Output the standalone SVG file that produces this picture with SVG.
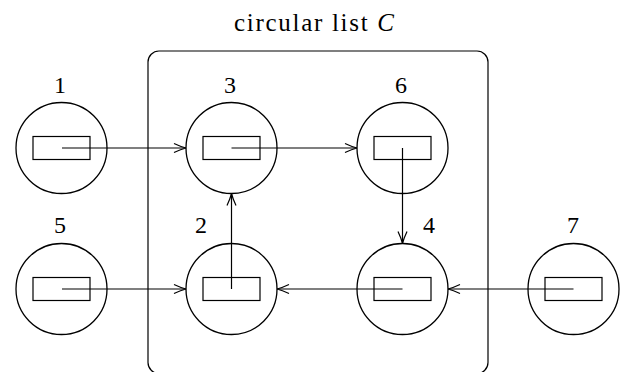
<svg xmlns="http://www.w3.org/2000/svg" width="627" height="372" viewBox="0 0 627 372">
<defs>
<style>
.c{fill:none;stroke:#000;stroke-width:1.3}
.r{fill:none;stroke:#000;stroke-width:1.2}
.l{fill:none;stroke:#000;stroke-width:1.2}
.t{font-family:"Liberation Serif",serif;font-size:24px;fill:#000;text-anchor:middle}
.h{font-family:"Liberation Serif",serif;font-size:25px;fill:#000;text-anchor:middle}
</style>
<marker id="a" markerUnits="userSpaceOnUse" markerWidth="16" markerHeight="12" viewBox="-14 -6 16 12" refX="0" refY="0" orient="auto">
<path d="M-12,-4.5 Q-5,-1.2 0,0 Q-5,1.2 -12,4.5" fill="none" stroke="#000" stroke-width="1.2"/>
</marker>
</defs>
<rect width="627" height="372" fill="#fff"/>
<text class="h" x="314" y="31" textLength="160" lengthAdjust="spacing">circular list <tspan font-style="italic">C</tspan></text>
<rect x="148" y="51" width="340" height="322.5" rx="11" class="l"/>
<g id="n1"><text class="t" x="60" y="93">1</text><circle class="c" cx="61.5" cy="148" r="45.5"/><rect class="r" x="33" y="136.5" width="57" height="23"/></g>
<g id="n3"><text class="t" x="230" y="93">3</text><circle class="c" cx="231.5" cy="148" r="45.5"/><rect class="r" x="203" y="136.5" width="57" height="23"/></g>
<g id="n6"><text class="t" x="401" y="93">6</text><circle class="c" cx="402.5" cy="148" r="45.5"/><rect class="r" x="374" y="136.5" width="57" height="23"/></g>
<g id="n5"><text class="t" x="60" y="233">5</text><circle class="c" cx="61.5" cy="289" r="45.5"/><rect class="r" x="33" y="277.5" width="57" height="23"/></g>
<g id="n2"><text class="t" x="201" y="233">2</text><circle class="c" cx="231.5" cy="289" r="45.5"/><rect class="r" x="203" y="277.5" width="57" height="23"/></g>
<g id="n4"><text class="t" x="429" y="233">4</text><circle class="c" cx="402.5" cy="289" r="45.5"/><rect class="r" x="374" y="277.5" width="57" height="23"/></g>
<g id="n7"><text class="t" x="573" y="233">7</text><circle class="c" cx="573.5" cy="289" r="45.5"/><rect class="r" x="545" y="277.5" width="57" height="23"/></g>
<g id="edges">
<line class="l" x1="62" y1="148" x2="186" y2="148" marker-end="url(#a)"/>
<line class="l" x1="231.5" y1="148" x2="357" y2="148" marker-end="url(#a)"/>
<line class="l" x1="402.5" y1="148" x2="402.5" y2="243.5" marker-end="url(#a)"/>
<line class="l" x1="402.5" y1="289" x2="277" y2="289" marker-end="url(#a)"/>
<line class="l" x1="231.5" y1="289" x2="231.5" y2="193.5" marker-end="url(#a)"/>
<line class="l" x1="62" y1="289" x2="186" y2="289" marker-end="url(#a)"/>
<line class="l" x1="573.5" y1="289" x2="448" y2="289" marker-end="url(#a)"/>
</g>
</svg>
